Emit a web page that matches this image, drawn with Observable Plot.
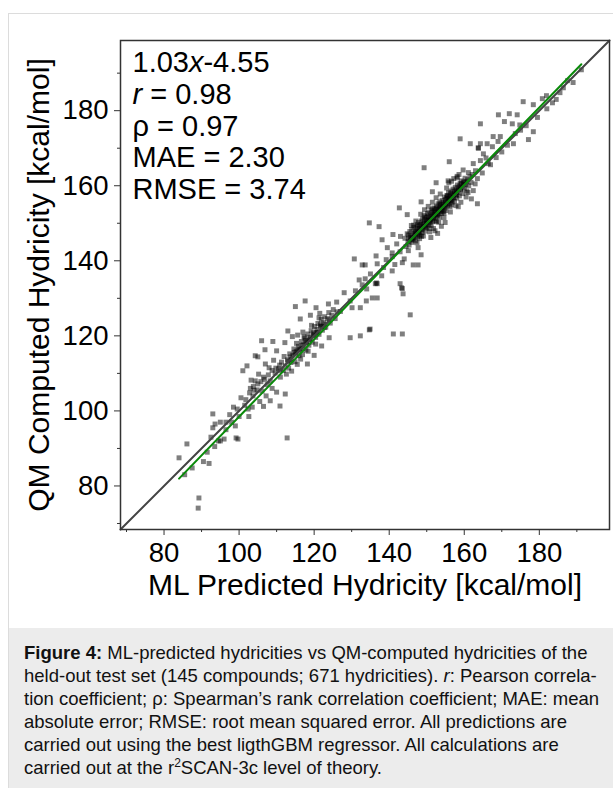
<!DOCTYPE html>
<html>
<head>
<meta charset="utf-8">
<script src="https://cdn.jsdelivr.net/npm/d3@7"></script>
<script src="https://cdn.jsdelivr.net/npm/@observablehq/plot@0.6"></script>
<style>
  html, body { margin: 0; padding: 0; background: #fff; }
  #wrap { position: relative; width: 613px; height: 788px; overflow: hidden; font-family: "Liberation Sans", Arial, Helvetica, sans-serif; }
  #border { position: absolute; left: 8px; top: 13px; width: 640px; height: 820px; border: 1px solid #dcdcdc; box-sizing: border-box; }
  #chart { position: absolute; left: 0; top: 0; }
  #caption { position: absolute; left: 9px; top: 628px; width: 620px; height: 170px; background: #ececec;
    box-sizing: border-box; padding: 13px 0 0 15px; font-size: 18.5px; line-height: 23px; color: #111; white-space: nowrap; }
  #caption sup { font-size: 12px; line-height: 0; vertical-align: 7px; }
</style>
</head>
<body>
<div id="wrap">
  <div id="border"></div>
  <div id="chart"></div>
  <div id="caption"><b>Figure 4:</b> ML-predicted hydricities vs QM-computed hydricities of the<br>held-out test set (145 compounds; 671 hydricities). <i>r</i>: Pearson correla-<br>tion coefficient; ρ: Spearman’s rank correlation coefficient; MAE: mean<br>absolute error; RMSE: root mean squared error. All predictions are<br>carried out using the best ligthGBM regressor. All calculations are<br>carried out at the r<sup>2</sup>SCAN-3c level of theory.</div>
</div>
<script>
// ---- axis / tick data ----
const axisDomain = [68.4, 198.7];
const majorTicks = [80, 100, 120, 140, 160, 180];
const minorTicks = [70, 90, 110, 130, 150, 170, 190];
const xTitle = "ML Predicted Hydricity [kcal/mol]";
const yTitle = "QM Computed Hydricity [kcal/mol]";

// ---- fit statistics ----
const slope = 1.03;
const intercept = -4.55;
const fitRange = [84.0, 191.2];
const pearsonR = "0.98";
const spearmanRho = "0.97";
const mae = "2.30";
const rmse = "3.74";

// ---- points [ML predicted, QM computed] ----
const lowRange = [
  [84.0,87.5],[86.1,91.2],[87.5,84.8],[89.3,76.8],[89.1,74.1],[85.5,83.0],[90.5,86.5],[91.5,89.0],
  [92.5,93.0],[93.0,95.5],[93.5,90.5],[94.5,92.0],[95.0,97.0],[96.0,92.5],[96.5,95.0],[97.5,99.0],
  [98.0,97.0],[98.5,101.0],[99.0,96.0],[99.5,100.5],[100.0,98.5],[92.0,86.0],[93.0,99.2],[93.6,96.5],
  [96.5,97.0],[99.2,92.8],[99.7,92.5],[95.0,92.0]
];
const range100 = [
  [100.5,103.5],[101.0,110.7],[101.5,101.5],[102.1,112.0],[102.4,100.5],[103.0,106.0],[103.7,104.0],
  [104.3,108.0],[104.3,114.7],[105.0,114.4],[105.5,102.5],[106.0,118.7],[106.1,105.3],[106.5,109.0],
  [106.9,116.3],[107.5,107.0],[108.0,111.5],[108.3,108.0],[108.3,102.7],[108.8,106.0],[109.6,110.1],
  [110.0,105.0],[110.9,101.3],[111.0,110.7],[112.3,104.5],[105.0,107.2],[103.5,101.0],[107.2,104.0],
  [109.2,113.5],[104.0,105.5],[101.8,103.0],[102.8,104.8],[103.8,106.5],[104.8,105.6],[105.8,107.8],
  [106.8,108.4],[107.8,109.6],[108.8,110.8],[109.8,111.4],[110.8,112.2],[103.2,108.2],[105.2,109.8],
  [107.0,112.5],[102.6,98.5],[106.5,101.2]
];
const range115 = [
  [110.5,111.2],[111.0,109.0],[111.3,113.0],[111.8,110.8],[112.0,114.5],[112.3,112.0],[112.6,109.8],
  [112.9,113.6],[113.2,111.4],[113.5,115.2],[113.8,112.9],[114.0,110.6],[114.3,114.8],[114.6,116.5],
  [114.9,113.1],[115.2,115.9],[115.5,112.4],[115.8,117.2],[116.0,114.7],[116.3,116.3],[116.6,118.5],
  [116.9,115.0],[117.2,117.6],[117.5,119.4],[117.8,116.2],[118.0,118.4],[118.3,120.5],[118.6,117.5],
  [118.9,119.6],[119.2,121.4],[119.5,118.3],[119.8,120.8],[120.1,122.5],[120.4,119.6],[120.7,121.7],
  [121.0,123.3],[121.3,120.4],[121.6,122.6],[121.9,124.4],[122.2,121.5],[122.5,123.5],[122.8,125.1],
  [123.1,122.3],[123.5,124.6],[123.9,126.2],[124.3,123.4],[124.7,125.5],[125.1,127.0],[125.6,124.6],
  [126.1,126.4],[113.0,121.3],[116.3,124.5],[117.6,129.3],[115.0,127.8],[114.2,119.8],[112.2,118.2],
  [119.0,125.5],[120.5,127.5],[118.2,112.5],[120.0,114.8],[122.0,117.3],[124.0,119.5],[121.5,126.0],
  [123.8,128.5],[117.0,121.0],[115.6,120.2],[112.8,92.8],[110.0,116.0],[109.0,118.5],
  [113.0,113.2],[114.0,113.7],[115.0,115.1],[116.0,116.5],[117.0,116.6],[118.0,118.1],[119.0,119.2],
  [120.0,120.4],[121.0,121.0],[122.0,122.5],[123.0,123.1],[124.0,124.3],[113.6,114.4],[114.7,115.6],
  [115.7,116.0],[116.7,117.5],[117.7,118.8],[118.7,118.9],[119.7,120.1],[120.7,120.9],[121.7,123.0],
  [122.7,122.2],[115.3,118.0],[117.3,119.8],[119.3,122.8],[121.3,124.8],[116.4,113.8],[118.4,115.9],
  [120.4,117.8]
];
const range135 = [
  [134.7,150.1],[137.3,149.1],[138.1,145.6],[130.7,140.5],[132.8,138.9],[133.6,138.9],[136.5,141.3],
  [136.8,139.2],[139.2,140.3],[140.8,141.1],[140.8,142.1],[142.9,142.4],[140.8,137.3],[132.0,134.9],
  [133.6,135.2],[136.3,133.9],[136.8,133.9],[136.6,134.1],[132.8,133.6],[142.9,133.9],[143.3,132.8],
  [143.5,132.6],[143.7,131.2],[135.5,130.1],[136.8,130.1],[133.9,129.3],[132.3,127.5],[145.6,125.6],
  [129.6,129.3],[130.1,127.5],[134.7,121.6],[134.9,121.8],[132.3,120.0],[141.1,120.5],[143.5,120.5],
  [129.6,119.5],[138.5,138.2],[141.5,139.0],[135.0,136.5],[128.0,131.5],[127.0,126.5],[126.0,129.0],
  [131.0,132.0],[134.0,132.5],[138.0,136.0],[139.5,143.5],[142.0,144.5],[143.0,146.5],[141.0,147.0]
];
const denseCluster = [
  [144.2,146.0],[144.5,143.8],[144.8,147.2],[145.0,145.1],[145.1,146.9],[145.3,144.2],[145.5,147.8],
  [145.6,145.5],[145.8,146.6],[146.0,148.3],[146.1,144.9],[146.3,147.0],[146.4,145.8],[146.6,148.9],
  [146.7,146.2],[146.9,147.6],[147.0,145.3],[147.2,149.1],[147.3,147.9],[147.5,146.4],[147.6,148.5],
  [147.8,150.2],[147.9,147.1],[148.0,149.4],[148.2,146.8],[148.3,148.2],[148.5,150.6],[148.6,149.0],
  [148.8,147.5],[148.9,151.2],[149.0,148.7],[149.2,150.0],[149.3,152.1],[149.5,149.3],[149.6,147.9],
  [149.8,151.5],[149.9,150.3],[150.0,148.8],[150.2,152.6],[150.3,150.9],[150.5,149.6],[150.6,153.0],
  [150.7,151.4],[150.9,150.1],[151.0,152.2],[151.2,149.4],[151.3,153.5],[151.4,151.8],[151.6,150.5],
  [151.7,152.9],[151.9,154.1],[152.0,151.3],[152.1,153.3],[152.3,150.7],[152.4,152.4],[152.6,154.6],
  [152.7,151.9],[152.8,153.7],[153.0,155.2],[153.1,152.5],[153.3,154.0],[153.4,151.6],[153.5,155.7],
  [153.7,153.2],[153.8,154.8],[154.0,152.6],[154.1,156.1],[154.2,154.3],[154.4,153.1],[154.5,155.5],
  [154.7,157.0],[154.8,154.0],[155.0,156.3],[155.1,153.4],[155.2,155.1],[155.4,157.4],[155.5,154.7],
  [155.7,156.6],[155.8,158.2],[156.0,155.3],[156.1,157.1],[156.2,154.4],[156.4,156.0],[156.5,158.6],
  [156.7,157.4],[156.8,155.6],[157.0,159.1],[157.1,156.8],[157.3,158.0],[157.4,155.9],[157.6,159.6],
  [157.7,157.5],[157.9,158.8],[158.0,156.7],[158.2,160.2],[158.3,158.1],[158.5,159.4],[158.7,157.3],
  [158.9,160.6],[159.0,158.9],[159.2,161.3],[159.4,159.6],[159.6,157.9],[159.8,161.0],[160.0,159.2],
  [160.2,162.0],[160.4,160.3],[160.7,158.6],[160.9,161.6],[161.2,160.0],[161.5,162.4],[161.8,160.9],
  [162.1,163.0],[146.5,149.5],[147.4,144.8],[148.1,145.9],[149.1,146.6],[150.8,147.7],[151.8,148.6],
  [153.2,150.3],[154.6,151.5],[156.3,153.0],[157.8,154.7],[150.4,154.5],[151.5,155.6],[152.5,156.8],
  [153.6,157.8],[155.3,159.4],[149.4,153.6],[148.4,152.4],[147.1,150.6],[145.9,149.4],[155.9,160.8],
  [157.2,161.9],[158.6,163.0],[159.7,164.2],[158.1,162.5],[156.6,161.2],[159.1,155.6],[160.5,157.0],
  [161.0,158.2],[154.9,150.2],[153.9,149.2],[152.2,148.0],[152.9,147.3],[151.1,146.2],
  [148.5,155.7],[142.7,154.1],[144.8,152.3],[143.5,139.5],[144.0,140.5],[145.1,142.7],[147.7,143.5],
  [148.5,141.6],[146.4,138.9],[147.7,138.9],[149.3,164.8],[152.5,160.8],[151.5,158.4],[155.7,161.3],
  [158.1,162.1],[161.1,163.5],[163.5,161.9],[162.9,160.5],[162.4,158.7],[161.9,156.5],[163.5,155.2],
  [158.4,154.4],[156.0,166.4],[162.4,165.9],[164.3,166.7],[166.4,165.9],
  [145.2,145.9],[145.7,146.3],[146.2,146.1],[146.8,147.3],[147.1,147.8],[147.7,147.4],[148.1,148.6],
  [148.4,149.7],[148.7,148.3],[149.1,149.8],[149.4,150.9],[149.7,149.2],[150.1,150.6],[150.4,151.8],
  [150.8,150.7],[151.1,151.1],[151.5,152.3],[151.8,151.6],[152.2,152.8],[152.5,153.9],[152.9,152.2],
  [153.2,153.6],[153.6,154.4],[153.9,153.5],[154.3,155.0],[154.6,154.4],[155.0,155.6],[155.3,156.8],
  [155.6,155.8],[156.0,156.7],[156.3,157.9],[156.6,156.3],[157.0,157.7],[157.5,158.5],[157.9,157.6],
  [158.4,158.9],[158.8,159.9],[159.3,160.5],[159.9,160.2],[160.6,161.1],[146.0,145.6],[147.0,146.8],
  [148.0,147.9],[149.0,149.1],[150.0,150.0],[151.0,150.8],[152.0,152.1],[153.0,153.0],[154.0,154.0],
  [155.0,154.8],[156.0,156.1],[157.0,156.9],[158.0,158.3],[159.0,159.3],[160.0,160.8],[147.5,149.6],
  [149.5,151.7],[151.5,153.8],[153.5,155.1],[155.5,157.3],[148.6,146.5],[150.6,148.6],[152.6,150.4],
  [154.6,152.7],[156.6,154.9]
];
const upperRange = [
  [158.9,172.5],[161.6,171.2],[163.7,170.1],[163.8,170.0],[166.1,171.2],[164.3,171.2],[165.1,168.5],
  [167.5,170.4],[167.7,173.1],[169.6,173.1],[173.6,173.9],[173.1,171.2],[177.1,172.3],[178.4,174.4],
  [164.3,176.5],[170.7,177.1],[172.8,176.5],[169.1,178.9],[172.0,179.2],[174.1,178.9],[175.7,182.4],
  [178.4,181.6],[183.5,182.1],[180.8,183.2],[181.9,184.0],[186.4,186.1],[191.2,190.9],[176.5,176.0],
  [175.0,174.8],[179.5,178.2],[182.0,180.5],[184.5,183.0],[187.5,188.0],[189.0,187.5],[185.5,184.8],
  [168.5,167.5],[170.0,169.0],[171.5,170.8],[163.0,164.0],[164.8,163.4],[165.8,167.4],[167.0,165.6],
  [169.0,171.8],[174.8,176.2]
];

const points = [...lowRange, ...range100, ...range115, ...range135, ...denseCluster, ...upperRange];

const statSegments = [
  [[slope.toFixed(2), false], ["x", true], [intercept.toFixed(2), false]],
  [["r", true], [" = " + pearsonR, false]],
  [["ρ = " + spearmanRho, false]],
  [["MAE = " + mae, false]],
  [["RMSE = " + rmse, false]]
];
const statsText = statSegments.map(l => l.map(s => s[0]).join("")).join("\n");

const diag = axisDomain.map(v => ({x: v, y: v}));
const fitLine = fitRange.map(v => ({x: v, y: slope * v + intercept}));

const chart = Plot.plot({
  width: 613,
  height: 628,
  marginLeft: 120,
  marginRight: 4,
  marginTop: 40,
  marginBottom: 99,
  style: {fontFamily: '"Liberation Sans", Arial, Helvetica, sans-serif', color: "#000", background: "transparent"},
  x: {domain: axisDomain},
  y: {domain: axisDomain},
  marks: [
    Plot.dot(points, {x: d => d[0], y: d => d[1], symbol: "square", r: 2.8, fill: "#000", fillOpacity: 0.5, stroke: "none"}),
    Plot.line(diag, {x: "x", y: "y", stroke: "#444", strokeWidth: 2}),
    Plot.line(fitLine, {x: "x", y: "y", stroke: "#0a8a0a", strokeWidth: 2}),
    Plot.frame({stroke: "#333", strokeWidth: 1.5}),
    Plot.axisX(majorTicks, {tickSize: 6, tickPadding: 7, fontSize: 27.5, label: null, stroke: "#333"}),
    Plot.axisX(minorTicks, {tickSize: 3, text: null, label: null, stroke: "#333"}),
    Plot.axisY(majorTicks, {tickSize: 6, tickPadding: 6, fontSize: 27.5, label: null, stroke: "#333"}),
    Plot.axisY(minorTicks, {tickSize: 3, text: null, label: null, stroke: "#333"}),
    Plot.text([xTitle], {frameAnchor: "bottom", dy: 65, fontSize: 30, lineAnchor: "bottom", textAnchor: "middle", fill: "#000"}),
    Plot.text([yTitle], {frameAnchor: "left", rotate: -90, dx: -72, fontSize: 30, lineAnchor: "bottom", textAnchor: "middle", fill: "#000"}),
    Plot.text([statsText], {frameAnchor: "top-left", textAnchor: "start", dx: 12, dy: 9.4, fontSize: 29, lineAnchor: "top", lineHeight: 1.093, fill: "#000"})
  ]
});
document.getElementById("chart").appendChild(chart);

// italicise the variable names in the statistics block
const statText = Array.from(chart.querySelectorAll("text")).find(t => t.textContent.includes("RMSE"));
if (statText) {
  const spans = Array.from(statText.querySelectorAll("tspan"));
  spans.forEach((span, i) => {
    const segs = statSegments[i];
    if (!segs) return;
    while (span.firstChild) span.removeChild(span.firstChild);
    segs.forEach(([t, it]) => {
      const s = document.createElementNS("http://www.w3.org/2000/svg", "tspan");
      s.textContent = t;
      if (it) s.setAttribute("style", "font-style: italic");
      span.appendChild(s);
    });
  });
}
</script>
</body>
</html>
